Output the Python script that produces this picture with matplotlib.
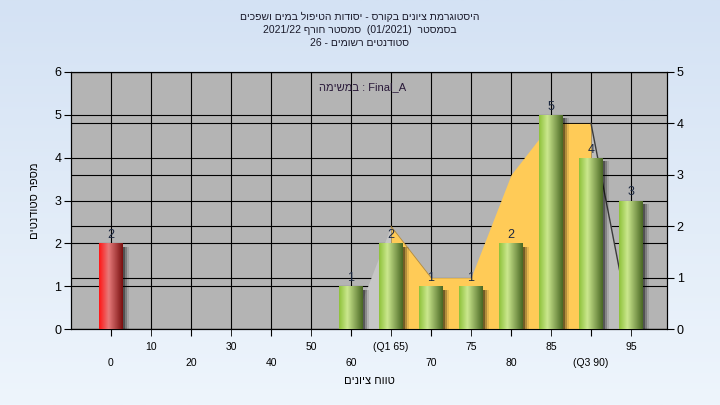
import re
import numpy as np
import matplotlib
matplotlib.use('Agg')
import matplotlib.pyplot as plt
from matplotlib.colors import LinearSegmentedColormap

plt.rcParams['font.family'] = ['Liberation Sans', 'DejaVu Sans']


def rtl(s):
    # Hebrew is drawn left to right by matplotlib, so flip it to visual order
    out = s[::-1].translate(str.maketrans('()', ')('))
    return re.sub(r'[A-Za-z0-9_/.]+', lambda m: m.group(0)[::-1], out)


# data
grades = ['0', '10', '20', '30', '40', '50', '60', '(Q1 65)', '70', '75', '80', '85', '(Q3 90)', '95']
counts = [2, 0, 0, 0, 0, 0, 1, 2, 1, 1, 2, 5, 4, 3]
trend = [0, 0, 0, 0, 0, 0, 0, 2, 1, 1, 3, 4, 4, 0]   # right axis area
failed = [True] + [False] * 13

title_lines = [
    'היסטוגרמת ציונים בקורס - יסודות הטיפול במים ושפכים',
    'בסמסטר  (01/2021)  סמסטר חורף 2021/22',
    'סטודנטים רשומים - 26',
]
task_text = 'Final_A : במשימה'

x = np.arange(len(grades))

fig = plt.figure(figsize=(7.2, 4.05), dpi=100)

# background gradient
bg = fig.add_axes([0, 0, 1, 1], zorder=-10)
bg_cmap = LinearSegmentedColormap.from_list('bg', ['#eef5fc', '#d4e2f4'])
bg.imshow(np.linspace(0, 1, 256).reshape(-1, 1)[::-1], aspect='auto', cmap=bg_cmap,
          extent=[0, 1, 0, 1], origin='upper')
bg.axis('off')

rect = [71 / 720, 1 - 329 / 405, 596 / 720, 257 / 405]
ax = fig.add_axes(rect)
ax2 = ax.twinx()
ax.set_zorder(ax2.get_zorder() + 1)
ax.patch.set_visible(False)
ax2.patch.set_visible(True)
ax2.set_facecolor('#b4b4b4')

ax.set_xlim(-1.0, 13.9)
ax.set_ylim(0, 6)
ax2.set_ylim(0, 5)

# grid
ax.set_axisbelow(True)
ax.grid(True, which='both', axis='both', color='black', lw=0.8)
ax2.yaxis.grid(True, color='black', lw=0.8)

# area on right axis (drawn in ax so it sits over grid, under bars)
tr = ax2.transData
ax.fill_between(x[6:8], trend[6:8], color='#c6c6c6', transform=tr, zorder=1.5, lw=0)
ax.fill_between(x[7:13], trend[7:13], color='#ffcb57', transform=tr, zorder=1.6, lw=0)
ax.fill_between(x[12:14], trend[12:14], color='#bdbdbd', transform=tr, zorder=1.5, lw=0)
ax.plot(x[12:14], trend[12:14], color='#3a3a3a', lw=1, transform=tr, zorder=1.7)
ax.plot(x[7:9], trend[7:9], color='#b08a40', lw=0.6, transform=tr, zorder=1.7)

# bars
w = 0.6
green = LinearSegmentedColormap.from_list('g', [(0, '#8fc23a'), (0.35, '#cbe78e'), (1, '#4a6824')])
red = LinearSegmentedColormap.from_list('r', [(0, '#ff1616'), (0.4, '#e67a7a'), (1, '#7a1010')])
grad = np.linspace(0, 1, 64).reshape(1, -1)

for off, a in [(0.04, 0.35), (0.09, 0.22), (0.14, 0.1)]:
    ax.bar(x + off, np.array(counts) - 0.08, width=w, color='black', alpha=a, lw=0, zorder=2)

bars = ax.bar(x, counts, width=w, color='#9acb44', lw=0, zorder=3)
for b, h, f in zip(bars, counts, failed):
    if h <= 0:
        continue
    x0 = b.get_x()
    im = ax.imshow(grad, cmap=red if f else green, aspect='auto',
                   extent=[x0, x0 + w, 0, h], zorder=3.5)
    im.set_clip_path(b)
    ax.annotate(str(h), (b.get_x() + w / 2, h), xytext=(0, 1.5), textcoords='offset points',
                ha='center', va='bottom', fontsize=9, color='#1c2840', zorder=5)

ax.set_xlim(-1.0, 13.9)
ax.set_ylim(0, 6)

# ticks
ax.set_xticks(x[0::2], [grades[i] for i in x[0::2]])
ax.set_xticks(x[1::2], [grades[i] for i in x[1::2]], minor=True)
ax.tick_params(axis='x', which='major', length=5, pad=16, labelsize=7.5, color='black')
ax.tick_params(axis='x', which='minor', length=5, pad=4, labelsize=7.5, color='black')
ax.set_yticks(range(0, 7))
ax2.set_yticks(range(0, 6))
ax.tick_params(axis='y', length=5, pad=2, labelsize=9)
ax2.tick_params(axis='y', length=5, pad=2, labelsize=9)

for a in (ax, ax2):
    for s in a.spines.values():
        s.set_color('black')
        s.set_linewidth(0.8)

ax.set_ylabel(rtl('מספר סטודנטים'), fontsize=8, labelpad=10)
ax.set_xlabel(rtl('טווח ציונים'), fontsize=8, labelpad=6)

for i, line in enumerate(title_lines):
    fig.text(0.5, 1 - (17 + 13 * i) / 405, rtl(line), ha='center', va='center',
             fontsize=7.5, color='#1a1a2a')
ax.text(0.49, 0.94, rtl(task_text), transform=ax.transAxes, ha='center', va='center',
        fontsize=8, color='#2a1a3a', zorder=6)

fig.savefig('out.png', dpi=100)
